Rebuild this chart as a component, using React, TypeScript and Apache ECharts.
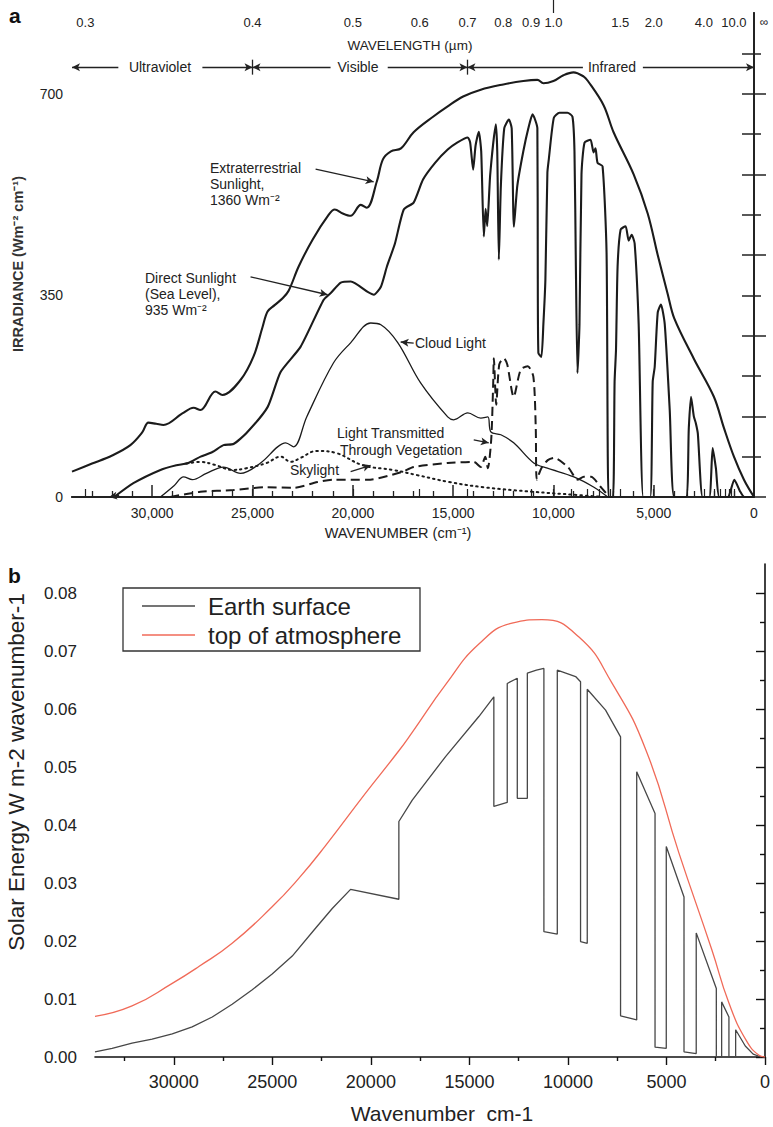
import React, { useEffect, useRef } from "react";
import * as echarts from "echarts";

// ---------- Panel a data: [wavenumber (cm-1), irradiance (W m-2 cm-1)] ----------
const extraterrestrial: [number, number][] = [
  [34000, 44], [33000, 58], [32000, 72], [31090, 90], [30500, 112], [30190, 129], [29800, 127],
  [29440, 125], [28500, 145], [27940, 155], [27600, 151], [26850, 183], [26500, 177], [25600, 203],
  [24950, 244], [24500, 295], [24250, 322], [23900, 333], [23500, 345], [23200, 358], [22700, 400],
  [22000, 447], [21200, 490], [20900, 499], [20500, 492], [20110, 488], [19600, 507], [19300, 502],
  [18800, 548], [18500, 586], [18100, 600], [17600, 605], [16970, 633], [16000, 660], [15270, 678],
  [14500, 695], [13620, 707], [12500, 716], [11500, 722], [10800, 724], [10500, 718], [10000, 722],
  [9500, 732], [9000, 737], [8500, 730], [8280, 722], [7500, 680], [7000, 633], [6000, 560],
  [5300, 492], [4800, 420], [4300, 352], [3975, 310], [3000, 240], [2000, 174], [1500, 120],
  [1000, 70], [500, 30], [0, 0],
];

const directSunlight: [number, number][] = [
  [31900, 0], [30940, 24], [29590, 47], [28800, 55], [28200, 59], [27590, 70], [27000, 78],
  [26450, 90], [25950, 92], [25300, 111], [24250, 156], [23600, 217], [22600, 261], [21460, 342],
  [21100, 354], [20600, 372], [20100, 374], [19260, 356], [18950, 351], [18600, 365], [18300, 400],
  [17900, 440], [17460, 499], [16970, 511], [16500, 551], [15900, 580], [15270, 603], [14800, 615],
  [14270, 624], [14150, 615], [14000, 568], [13880, 610], [13720, 634], [13600, 600], [13470, 452],
  [13380, 500], [13300, 470], [13150, 560], [12870, 647], [12800, 600], [12720, 412], [12620, 540],
  [12450, 640], [12220, 655], [12080, 640], [11970, 469], [11800, 540], [11500, 600], [11250, 640],
  [11040, 664], [10800, 640], [10780, 400], [10750, 250], [10600, 243], [10500, 300], [10400, 377],
  [10300, 563], [10230, 586], [9980, 658], [9700, 667], [9300, 667], [9050, 660], [8950, 600],
  [8880, 400], [8800, 215], [8700, 300], [8600, 560], [8450, 615], [8150, 620], [8000, 598],
  [7900, 605], [7800, 580], [7550, 574], [7350, 424], [7250, 0], [7030, 0], [6950, 200],
  [6880, 255], [6800, 400], [6650, 464], [6400, 470], [6250, 445], [6100, 455], [5950, 440],
  [5750, 300], [5520, 0], [5175, 0], [5050, 200], [4950, 226], [4800, 320], [4640, 334],
  [4450, 300], [4200, 150], [3975, 0], [3390, 0], [3250, 120], [3140, 174], [3000, 140],
  [2900, 128], [2800, 110], [2560, 0], [2230, 0], [2060, 85], [1900, 50], [1730, 0], [1310, 0],
  [980, 30], [700, 10], [480, 0], [0, 0],
];

const cloudLight: [number, number][] = [
  [29590, 0], [28900, 20], [28440, 35], [28000, 30], [27300, 41], [26450, 52], [25600, 41],
  [24600, 59], [23750, 87], [23350, 94], [22950, 87], [22300, 139], [20960, 233], [20100, 268],
  [19110, 302], [18600, 299], [17760, 268], [16620, 198], [15270, 139], [14970, 134], [14270, 146],
  [13620, 137], [13270, 139], [13120, 113], [12620, 108], [11980, 94], [10980, 59], [10300, 50],
  [8980, 35], [7980, 17], [7290, 0],
];

const vegetationLight: [number, number][] = [
  [29100, 0], [27600, 9], [25950, 12], [24250, 17], [22950, 16], [21760, 26], [20960, 30],
  [19260, 30], [17600, 43], [16960, 52], [15270, 59], [13970, 61], [13620, 52], [13400, 70],
  [13270, 50], [13100, 100], [13000, 200], [12970, 241], [12850, 160], [12700, 230], [12470, 241],
  [12300, 230], [11980, 174], [11630, 221], [11280, 227], [11000, 209], [10880, 120], [10830, 30],
  [10600, 50], [10280, 64], [9980, 68], [9280, 52], [8780, 30], [8480, 35], [8130, 35], [7630, 17],
  [7290, 3],
];

const skylight: [number, number][] = [
  [28300, 58], [27600, 61], [26900, 56], [26000, 47], [25300, 50], [24300, 59], [23600, 70],
  [23100, 61], [22600, 68], [21800, 80], [20800, 76], [19500, 55], [18000, 47], [16800, 38],
  [15200, 26], [13500, 17], [11000, 9], [9000, 4], [7500, 0],
];

// ---------- Panel b data: [wavenumber (cm-1), W m-2 wavenumber-1] ----------
const earthSurface: [number, number][] = [
  [34000, 0.0009], [33130, 0.0015], [32120, 0.0024], [31100, 0.0031], [30080, 0.004],
  [29070, 0.0052], [28050, 0.0069], [27040, 0.0091], [26020, 0.0116], [25010, 0.0143],
  [23990, 0.0174], [22810, 0.0222], [21960, 0.0256], [21030, 0.0289], [18580, 0.0272],
  [18580, 0.0406], [17900, 0.0443], [16210, 0.0518], [14520, 0.0587], [13760, 0.0621],
  [13760, 0.0432], [13080, 0.0439], [13080, 0.0644], [12570, 0.0653], [12570, 0.0446],
  [12060, 0.0446], [12060, 0.0662], [11600, 0.0667], [11220, 0.067], [11220, 0.0216],
  [10540, 0.0212], [10540, 0.0667], [9610, 0.0656], [9360, 0.0647], [9360, 0.0199],
  [9020, 0.0196], [9020, 0.0634], [8090, 0.0598], [7330, 0.0552], [7330, 0.0071],
  [6510, 0.0064], [6510, 0.0492], [5580, 0.042], [5580, 0.0017], [5010, 0.0015],
  [5010, 0.0363], [4110, 0.0276], [4110, 0.0009], [3490, 0.0006], [3490, 0.0214],
  [2470, 0.0118], [2470, 0], [2200, 0], [2200, 0.0095], [1830, 0.0069], [1830, 0],
  [1490, 0], [1490, 0.0047], [1000, 0.0019], [600, 0.0005], [200, 0],
];

const topOfAtmosphere: [number, number][] = [
  [34000, 0.007], [32120, 0.0088], [30080, 0.0127], [28730, 0.0156], [27040, 0.0196],
  [25010, 0.0259], [23660, 0.0308], [22310, 0.0364], [20270, 0.0455],
  [18580, 0.0528], [17920, 0.0559], [16190, 0.0643], [14520, 0.0712],
  [12840, 0.0748], [11320, 0.0754], [9440, 0.0724], [7770, 0.0645], [6040, 0.0529],
  [4370, 0.0352], [2690, 0.0184], [1830, 0.0093], [960, 0.0029], [300, 0.0003], [0, 0],
];

// ---------- Axis ticks / labels ----------
const wnMajorA = [0, 5000, 10000, 15000, 20000, 25000, 30000];
const wnMinorA = [1000, 2000, 3000, 4000, 6000, 7000, 8000, 9000, 11000, 12000, 13000, 14000,
  16000, 17000, 18000, 19000, 21000, 22000, 23000, 24000, 26000, 27000, 28000, 29000, 31000,
  32000, 33000];
const irrLongTicks = [0, 140, 280, 420, 560, 700];
const irrShortTicks = [70, 210, 350, 490, 630, 770];
const irrAllTicks = [70, 140, 210, 280, 350, 420, 490, 560, 630, 700, 770];
const irrLabels = [0, 350, 700];
const wavelengthTicks = [0.3, 0.4, 0.5, 0.6, 0.7, 0.8, 0.9, 1.0, 1.1, 1.2, 1.3, 1.4, 1.5, 2.0, 3.0,
  4.0, 5.0, 6.0, 7.0, 8.0, 9.0, 10.0];
const wavelengthLabels = ["0.3", "0.4", "0.5", "0.6", "0.7", "0.8", "0.9", "1.0", "1.5", "2.0",
  "4.0", "10.0"];

const wnMajorB = [0, 5000, 10000, 15000, 20000, 25000, 30000];
const wnMinorB = [2500, 7500, 12500, 17500, 22500, 27500, 32500];
const energyMajorB = [0, 0.01, 0.02, 0.03, 0.04, 0.05, 0.06, 0.07, 0.08];
const energyMinorB = [0.005, 0.015, 0.025, 0.035, 0.045, 0.055, 0.065, 0.075];

const legendNames = ["Earth surface", "top of atmosphere"];
const EARTH_COLOR = "#474747";
const TOA_COLOR = "#f06a58";

const FONT = "'Liberation Sans', Arial, Helvetica, sans-serif";
const INK = "#222";

function txt(x: number, y: number, text: string, size: number, extra: any = {}) {
  const { rotation, ...style } = extra;
  return {
    type: "text",
    x,
    y,
    z: 100,
    rotation: rotation || 0,
    silent: true,
    style: {
      text,
      fontSize: size,
      fontFamily: FONT,
      fill: INK,
      align: "left",
      verticalAlign: "middle",
      ...style,
    },
  };
}

function seg(a: [number, number], b: [number, number], arrow = true) {
  return [
    { coord: a, symbol: "none" },
    { coord: b, symbol: arrow ? "arrow" : "none" },
  ];
}

const REGION_Y = 746;

function legendGraphic() {
  const box = { x: 123, y: 588, w: 297, h: 63 };
  const rows = [606, 635];
  const colors = [EARTH_COLOR, TOA_COLOR];
  const els: any[] = [
    {
      type: "rect", z: 100, silent: true,
      shape: { x: box.x, y: box.y, width: box.w, height: box.h },
      style: { fill: "#fff", stroke: "#333", lineWidth: 1.3 },
    },
  ];
  rows.forEach((ry, i) => {
    els.push({
      type: "line", z: 101, silent: true,
      shape: { x1: 142, y1: ry, x2: 195, y2: ry },
      style: { stroke: colors[i], lineWidth: 1.3 },
    });
    els.push(txt(208, ry, legendNames[i], 24));
  });
  return els;
}

function buildOption() {
  const wlLabelValues = wavelengthLabels.map((s) => 10000 / parseFloat(s));
  return {
    animation: false,
    textStyle: { fontFamily: FONT },
    grid: [
      { left: 72, top: 13, width: 682, height: 484 },
      { left: 95, top: 564, width: 671, height: 493 },
    ],
    xAxis: [
      {
        gridIndex: 0, type: "value", position: "bottom", min: 0, max: 34000, inverse: true,
        axisLine: { lineStyle: { color: INK, width: 1.8 } },
        axisTick: { inside: true, length: 12, customValues: wnMajorA, lineStyle: { color: INK, width: 1.5 } },
        axisLabel: {
          customValues: wnMajorA, margin: 9, fontSize: 14, color: INK, fontFamily: FONT,
          formatter: (v: number) => (v === 0 ? "0" : v.toLocaleString("en-US")),
        },
        splitLine: { show: false },
      },
      {
        gridIndex: 0, type: "value", position: "bottom", min: 0, max: 34000, inverse: true,
        axisLine: { show: false },
        axisTick: { inside: true, length: 6, customValues: wnMinorA, lineStyle: { color: INK, width: 1.3 } },
        axisLabel: { show: false },
        splitLine: { show: false },
      },
      {
        gridIndex: 0, type: "value", position: "top", min: 0, max: 34000, inverse: true,
        axisLine: { lineStyle: { color: INK, width: 1.8 } },
        axisTick: {
          inside: false, length: 8, customValues: wavelengthTicks.map((w) => 10000 / w),
          lineStyle: { color: INK, width: 1.2 },
        },
        axisLabel: {
          inside: true, customValues: wlLabelValues, margin: 3, fontSize: 13, color: INK,
          fontFamily: FONT,
          formatter: (v: number) => {
            let best = 0;
            let bestD = Infinity;
            wlLabelValues.forEach((w, i) => {
              const d = Math.abs(w - v);
              if (d < bestD) { bestD = d; best = i; }
            });
            return wavelengthLabels[best];
          },
        },
        splitLine: { show: false },
      },
      {
        gridIndex: 0, type: "value", position: "top", min: 0, max: 34000, inverse: true,
        axisLine: { show: false },
        axisTick: { inside: false, length: 13, customValues: [10000], lineStyle: { color: INK, width: 1.2 } },
        axisLabel: { show: false },
        splitLine: { show: false },
      },
      {
        gridIndex: 1, type: "value", position: "bottom", min: 0, max: 34000, inverse: true,
        axisLine: { lineStyle: { color: "#111", width: 1.6 } },
        axisTick: { length: 8, customValues: wnMajorB, lineStyle: { color: "#111", width: 1.4 } },
        axisLabel: {
          customValues: wnMajorB, margin: 16, fontSize: 18, color: INK, fontFamily: FONT,
          formatter: (v: number) => String(v),
        },
        splitLine: { show: false },
      },
      {
        gridIndex: 1, type: "value", position: "bottom", min: 0, max: 34000, inverse: true,
        axisLine: { show: false },
        axisTick: { length: 4, customValues: wnMinorB, lineStyle: { color: "#111", width: 1.4 } },
        axisLabel: { show: false },
        splitLine: { show: false },
      },
    ],
    yAxis: [
      {
        gridIndex: 0, type: "value", position: "left", min: 0, max: 840,
        axisLine: { show: true, lineStyle: { color: INK, width: 1.8 } },
        axisTick: { show: true, inside: true, length: 12, customValues: irrLongTicks, lineStyle: { color: INK, width: 1.5 } },
        axisLabel: { customValues: irrLabels, margin: 9, fontSize: 14, color: INK, fontFamily: FONT },
        splitLine: { show: false },
      },
      {
        gridIndex: 0, type: "value", position: "left", min: 0, max: 840,
        axisLine: { show: false },
        axisTick: { show: true, inside: true, length: 7, customValues: irrShortTicks, lineStyle: { color: INK, width: 1.5 } },
        axisLabel: { show: false },
        splitLine: { show: false },
      },
      {
        gridIndex: 0, type: "value", position: "right", min: 0, max: 840,
        axisLine: { show: true, lineStyle: { color: INK, width: 1.8 } },
        axisTick: { show: true, inside: true, length: 12, customValues: irrAllTicks, lineStyle: { color: INK, width: 1.5 } },
        axisLabel: { show: false },
        splitLine: { show: false },
      },
      {
        gridIndex: 1, type: "value", position: "left", min: 0, max: 0.085,
        axisLine: { show: true, lineStyle: { color: "#111", width: 1.6 } },
        axisTick: { show: true, length: 9, customValues: energyMajorB, lineStyle: { color: "#111", width: 1.4 } },
        axisLabel: {
          customValues: energyMajorB, margin: 18, fontSize: 17, color: INK, fontFamily: FONT,
          formatter: (v: number) => v.toFixed(2),
        },
        splitLine: { show: false },
      },
      {
        gridIndex: 1, type: "value", position: "left", min: 0, max: 0.085,
        axisLine: { show: false },
        axisTick: { show: true, length: 5, customValues: energyMinorB, lineStyle: { color: "#111", width: 1.4 } },
        axisLabel: { show: false },
        splitLine: { show: false },
      },
    ],
    series: [
      {
        name: "Extraterrestrial", type: "line", xAxisIndex: 0, yAxisIndex: 0, data: extraterrestrial,
        showSymbol: false, symbol: "none", smooth: 0.35, lineStyle: { color: "#1b1b1b", width: 2.1 },
        markLine: {
          silent: true, symbol: ["none", "arrow"], symbolSize: [6, 8], label: { show: false },
          lineStyle: { color: INK, width: 1.3, type: "solid" },
          data: [
            seg([21856, 569], [18962, 547]),
            seg([25100, 382], [21257, 351]),
            seg([16966, 267], [17615, 269]),
            seg([13972, 99], [13224, 94]),
            seg([20110, 44], [19112, 55]),
            seg([31650, 3], [32150, 0]),
            seg([31690, REGION_Y], [34000, REGION_Y]),
            seg([27500, REGION_Y], [25000, REGION_Y]),
            seg([21110, REGION_Y], [25000, REGION_Y]),
            seg([18260, REGION_Y], [14286, REGION_Y]),
            seg([8530, REGION_Y], [14286, REGION_Y]),
            seg([5540, REGION_Y], [0, REGION_Y]),
            seg([25000, REGION_Y - 13], [25000, REGION_Y + 13], false),
            seg([14286, REGION_Y - 13], [14286, REGION_Y + 13], false),
          ],
        },
      },
      {
        name: "Direct Sunlight", type: "line", xAxisIndex: 0, yAxisIndex: 0, data: directSunlight,
        showSymbol: false, symbol: "none", smooth: 0.2, lineStyle: { color: "#1b1b1b", width: 2.1 },
      },
      {
        name: "Cloud Light", type: "line", xAxisIndex: 0, yAxisIndex: 0, data: cloudLight,
        showSymbol: false, symbol: "none", smooth: 0.35, lineStyle: { color: "#1b1b1b", width: 1.3 },
      },
      {
        name: "Vegetation", type: "line", xAxisIndex: 0, yAxisIndex: 0, data: vegetationLight,
        showSymbol: false, symbol: "none", smooth: 0.25,
        lineStyle: { color: "#1b1b1b", width: 2, type: [9, 5] },
      },
      {
        name: "Skylight", type: "line", xAxisIndex: 0, yAxisIndex: 0, data: skylight,
        showSymbol: false, symbol: "none", smooth: 0.4,
        lineStyle: { color: "#1b1b1b", width: 2, type: [1.5, 4], cap: "round" },
      },
      {
        name: legendNames[0], type: "line", xAxisIndex: 4, yAxisIndex: 3, data: earthSurface,
        showSymbol: false, symbol: "none", smooth: false, lineStyle: { color: EARTH_COLOR, width: 1.3 },
      },
      {
        name: legendNames[1], type: "line", xAxisIndex: 4, yAxisIndex: 3, data: topOfAtmosphere,
        showSymbol: false, symbol: "none", smooth: 0.5, lineStyle: { color: TOA_COLOR, width: 1.3 },
      },
    ],
    graphic: [
      txt(9, 15, "a", 21, { fontWeight: "bold", fill: "#111" }),
      txt(8, 575, "b", 21, { fontWeight: "bold", fill: "#111" }),
      txt(764, 22, "∞", 12, { align: "center" }),
      txt(410, 45, "WAVELENGTH (µm)", 13.5, { align: "center" }),
      txt(160, 67, "Ultraviolet", 14, { align: "center" }),
      txt(358, 67, "Visible", 14, { align: "center" }),
      txt(612, 67, "Infrared", 14, { align: "center" }),
      txt(18, 264, "IRRADIANCE (Wm⁻² cm⁻¹)", 14.5, { align: "center", rotation: Math.PI / 2, fontWeight: "bold", fill: "#333" }),
      txt(398, 533, "WAVENUMBER (cm⁻¹)", 14.5, { align: "center" }),
      txt(210, 168, "Extraterrestrial", 14),
      txt(210, 184, "Sunlight,", 14),
      txt(210, 200, "1360 Wm⁻²", 14),
      txt(145, 278, "Direct Sunlight", 14),
      txt(145, 294, "(Sea Level),", 14),
      txt(145, 310, "935 Wm⁻²", 14),
      txt(415, 343, "Cloud Light", 14),
      txt(337, 433, "Light Transmitted", 14),
      txt(340, 450, "Through Vegetation", 14),
      txt(290, 470, "Skylight", 14),
      txt(16, 772, "Solar Energy W m-2 wavenumber-1", 22.5, { align: "center", rotation: Math.PI / 2 }),
      txt(442, 1113, "Wavenumber  cm-1", 21, { align: "center" }),
      ...legendGraphic(),
    ],
  };
}

export default function App() {
  const ref = useRef<HTMLDivElement>(null);
  useEffect(() => {
    document.body.style.margin = "0";
    if (!ref.current) return;
    const chart = echarts.init(ref.current, null, { renderer: "svg" });
    chart.setOption(buildOption() as any);
    return () => chart.dispose();
  }, []);
  return <div ref={ref} style={{ width: 773, height: 1127, background: "#fff" }} />;
}
